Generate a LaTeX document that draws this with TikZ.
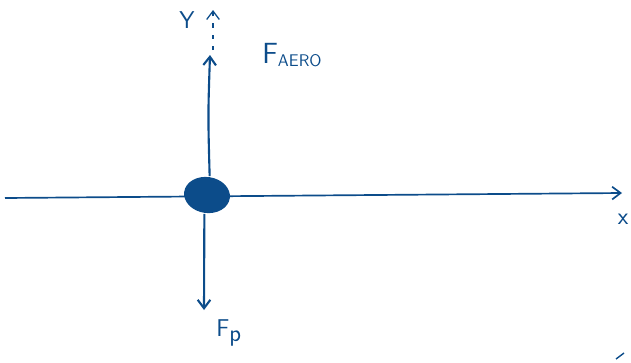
\documentclass[tikz,border=0pt]{standalone}
\usepackage{amsmath}
\usepackage{tikz}
\usetikzlibrary{arrows, shapes, positioning, calc, arrows.meta}
\definecolor{inkblue}{RGB}{12,76,138}

\begin{document}
\begin{tikzpicture}[x=0.025cm, y=-0.025cm, line width=1.4pt, inkblue]
  \tikzstyle{axis}=[line width=1.2pt, -{Straight Barb[length=6pt, width=9pt]}]
  \tikzstyle{force}=[line width=1.5pt, -{Straight Barb[length=6pt, width=9pt]}]
  \tikzstyle{lbl}=[inner sep=1pt, text=inkblue, font=\sffamily]

  \useasboundingbox (0,0) rectangle (631,362);

  \coordinate (xl) at (5,198);
  \coordinate (xr) at (622,193);
  \coordinate (ybot) at (213,50);
  \coordinate (ytop) at (213,10);
  \coordinate (aerotip) at (210,55);
  \coordinate (ptip) at (204,310);

  % Horizontal axis
  \draw[axis] (xl) -- (xr);

  % mass point
  \node[ellipse, fill=inkblue, minimum width=1.15cm, minimum height=0.9cm,
    inner sep=0pt, rotate=-8] (dot) at (207,195) {};

  % Vertical axis (dashed)
  \draw[axis, dash pattern=on 3pt off 5pt, line width=0.9pt] (ybot) -- (ytop);

  % Forces
  \draw[force] (dot.north) .. controls (208,115) .. (aerotip);
  \draw[force] (dot.south) -- (ptip);

  %% Labels
  \node[lbl, font=\LARGE\sffamily] (xlab) at (623,219) {x};
  \node[lbl, font=\LARGE\sffamily] (ylab) at (187,20) {Y};
  \node[lbl, anchor=west] (faero) at (260,55)
    {{\huge F}\raisebox{-0.6ex}{\large AERO}};
  \node[lbl, anchor=west] (fp) at (214,333)
    {{\LARGE F}\raisebox{-0.7ex}{\LARGE p}};

  % stray stroke
  \draw[line width=1pt] (616,359) -- (624,353);
\end{tikzpicture}
\end{document}
